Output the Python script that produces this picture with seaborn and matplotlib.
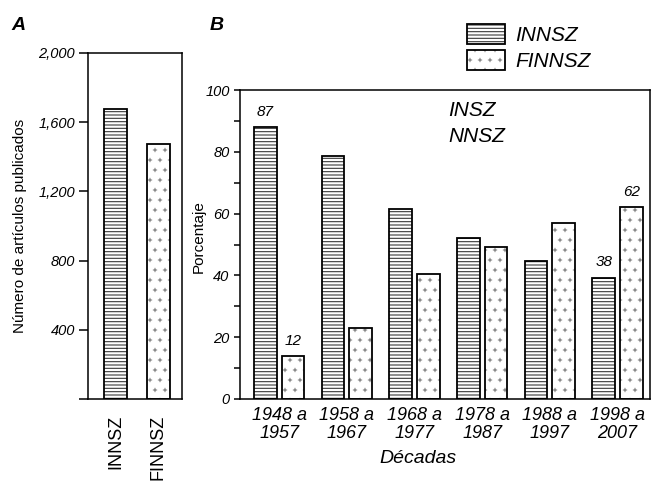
import matplotlib
matplotlib.use("Agg")
import numpy as np
import matplotlib.pyplot as plt
from matplotlib import hatch as mhatch
from matplotlib import colors as mcolors
from matplotlib.path import Path
from matplotlib.patches import Patch
import seaborn as sns
import pandas as pd

# ---------------- data ----------------
totals_cats = ["INNSZ", "FINNSZ"]
totals_vals = [1675, 1475]
totals_ticks = [0, 400, 800, 1200, 1600, 2000]
totals_ticklabels = ["", "400", "800", "1,200", "1,600", "2,000"]

decades = ["1948 a\n1957", "1958 a\n1967", "1968 a\n1977",
           "1978 a\n1987", "1988 a\n1997", "1998 a\n2007"]
series = ["INNSZ", "FINNSZ"]
innsz_pct = [88.0, 78.7, 61.4, 52.0, 44.7, 39.3]
finnsz_pct = [13.9, 22.9, 40.6, 49.3, 57.1, 62.2]
pct_labels_major = [0, 20, 40, 60, 80, 100]
pct_minor = [10, 30, 50, 70, 90]
annot_groups = [0, 0, 5, 5]
annot_series = [0, 1, 0, 1]
annot_texts = ["87", "12", "38", "62"]


# ---------------- small "+" hatch (replaces the '*' star hatch) ----------------
class SmallPlus(mhatch.Shapes):
    filled = True
    size = 0.32

    def __init__(self, hatch, density):
        self.num_rows = int(hatch.count('*') * 5)
        self.shape_vertices = np.array([[-0.5, 0.0], [0.5, 0.0], [0.0, -0.5], [0.0, 0.5]])
        self.shape_codes = np.array([Path.MOVETO, Path.LINETO, Path.MOVETO, Path.LINETO],
                                    dtype=Path.code_type)
        super().__init__(hatch, density)


mhatch._hatch_types = [t for t in mhatch._hatch_types if t.__name__ != "Stars"] + [SmallPlus]

# ---------------- style ----------------
sns.set_style("ticks")
plt.rcParams["font.family"] = ["Liberation Sans", "DejaVu Sans"]
plt.rcParams["hatch.linewidth"] = 0.8
for k in ["text.color", "axes.labelcolor", "xtick.color", "ytick.color",
          "axes.edgecolor", "xtick.labelcolor", "ytick.labelcolor"]:
    plt.rcParams[k] = "black"

H_HATCH = "-----"
P_HATCH = "**"
H_COLOR = "#3a3a3a"
P_COLOR = "#8a8a8a"


def style_patch(p, hatch, hcolor):
    p.set_hatch(hatch)
    if hasattr(p, "set_hatchcolor"):
        p.set_hatchcolor(hcolor)
    else:
        p._hatch_color = mcolors.to_rgba(hcolor)


fig = plt.figure(figsize=(6.52, 4.83), dpi=100)
axA = fig.add_axes([88 / 652, 1 - 399 / 483, 94 / 652, 346 / 483])
axB = fig.add_axes([240 / 652, 1 - 399 / 483, 410 / 652, 309 / 483])

# ---------------- panel A ----------------
sns.barplot(x=totals_cats, y=totals_vals, color="white", saturation=1,
            edgecolor="black", linewidth=1.3, width=0.53, ax=axA)
for p, h, c in zip(axA.patches, [H_HATCH, P_HATCH], [H_COLOR, P_COLOR]):
    style_patch(p, h, c)
axA.set_xlim(-0.64, 1.55)
axA.set_ylim(0, 2000)
axA.set_yticks(totals_ticks)
axA.set_yticklabels(totals_ticklabels, fontstyle="italic", fontsize=10.5)
axA.tick_params(axis="y", length=6.5, width=1.1, pad=3)
axA.tick_params(axis="x", length=0, pad=11, labelsize=13, labelrotation=90)
axA.set_ylabel("Número de artículos publicados", fontsize=11)
axA.yaxis.set_label_coords(-0.65, 0.5)
for s in axA.spines.values():
    s.set_visible(True)
    s.set_linewidth(1.1)
    s.set_color("black")

# ---------------- panel B ----------------
df = pd.DataFrame({
    "Década": decades * 2,
    "Serie": [series[0]] * len(decades) + [series[1]] * len(decades),
    "Porcentaje": innsz_pct + finnsz_pct,
})
sns.barplot(data=df, x="Década", y="Porcentaje", hue="Serie",
            palette={series[0]: "white", series[1]: "white"}, saturation=1,
            edgecolor="black", linewidth=1.3, width=0.82, gap=0.18,
            legend=False, ax=axB)
for i, cont in enumerate(axB.containers):
    for p in cont:
        if i == 0:
            style_patch(p, H_HATCH, H_COLOR)
        else:
            style_patch(p, P_HATCH, P_COLOR)

for g, s, t in zip(annot_groups, annot_series, annot_texts):
    p = axB.containers[s][g]
    axB.annotate(t, xy=(p.get_x() + p.get_width() / 2, p.get_height()),
                 xytext=(0, 11), textcoords="offset points",
                 ha="center", va="center", fontsize=11, fontstyle="italic")

axB.set_xlim(-0.58, 5.48)
axB.set_ylim(0, 100)
axB.set_yticks(pct_labels_major)
axB.set_yticklabels([str(v) for v in pct_labels_major], fontstyle="italic", fontsize=10.5)
axB.set_yticks(pct_minor, minor=True)
axB.tick_params(axis="y", which="both", length=4.5, width=1.1, pad=3)
axB.tick_params(axis="x", length=0, pad=6)
axB.set_xticks(range(len(decades)))
axB.set_xticklabels(decades, fontstyle="italic", fontsize=13, linespacing=1.05)
axB.set_ylabel("Porcentaje", fontsize=11)
axB.yaxis.set_label_coords(-0.084, 0.526)
axB.set_xlabel("Décadas", fontsize=14, fontstyle="italic", va="center")
axB.xaxis.set_label_coords(0.434, -0.191)
for s in axB.spines.values():
    s.set_visible(True)
    s.set_linewidth(1.1)
    s.set_color("black")

# stray overlaid text in the original
fig.text(448 / 652, 1 - 110 / 483, "INSZ", fontsize=15, fontstyle="italic", va="center", ha="left")
fig.text(448 / 652, 1 - 137 / 483, "NNSZ", fontsize=15, fontstyle="italic", va="center", ha="left")

# legend
h1 = Patch(facecolor="white", edgecolor="black", linewidth=1.3, label=series[0])
h2 = Patch(facecolor="white", edgecolor="black", linewidth=1.3, label=series[1])
style_patch(h1, H_HATCH, H_COLOR)
style_patch(h2, P_HATCH, P_COLOR)
leg = fig.legend(handles=[h1, h2], loc="upper left", bbox_to_anchor=(467 / 652, 1 - 24 / 483),
                 frameon=False, borderpad=0, borderaxespad=0, handlelength=1.8,
                 handleheight=1.1, handletextpad=0.5, labelspacing=0.22,
                 prop={"size": 15, "style": "italic"})

# panel letters
fig.text(11 / 652, 1 - 25 / 483, "A", fontsize=14, fontweight="bold", fontstyle="italic", va="center")
fig.text(210 / 652, 1 - 25 / 483, "B", fontsize=14, fontweight="bold", fontstyle="italic", va="center")

fig.savefig("out.png", dpi=100)
